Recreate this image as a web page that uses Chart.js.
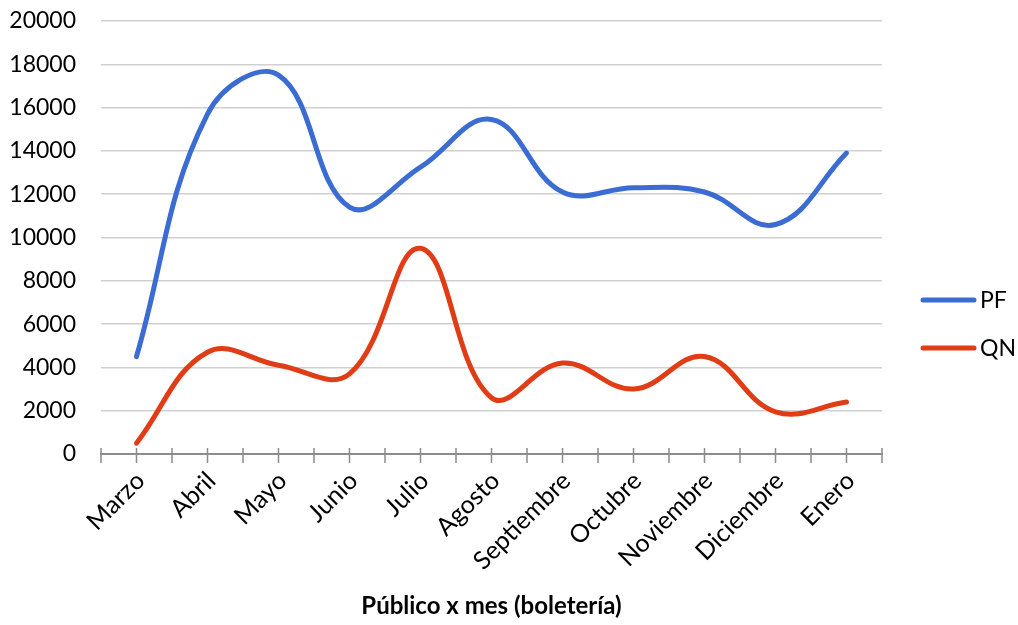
<!DOCTYPE html>
<html>
<head>
<meta charset="utf-8">
<script src="https://cdn.jsdelivr.net/npm/chart.js@4.4.1/dist/chart.umd.min.js"></script>
<style>
  html, body { margin: 0; padding: 0; background: #fff; }
  #wrap { width: 1018px; height: 625px; }
</style>
</head>
<body>
<div id="wrap"><canvas id="chart-publico"></canvas></div>
<script>
const meses = ['Marzo', 'Abril', 'Mayo', 'Junio', 'Julio', 'Agosto', 'Septiembre', 'Octubre', 'Noviembre', 'Diciembre', 'Enero'];
const pf = [4500, 15700, 17500, 11400, 13250, 15450, 12100, 12300, 12100, 10600, 13900];
const qn = [500, 4700, 4100, 3700, 9500, 2600, 4200, 3000, 4500, 1950, 2400];
const yTicks = [0, 2000, 4000, 6000, 8000, 10000, 12000, 14000, 16000, 18000, 20000];

const FONT = 'Lato, "Open Sans", sans-serif';

// ticks on the x axis: at category edges and at category centres
const axisTicks = {
  id: 'axisTicks',
  afterDraw(chart) {
    const x = chart.scales.x;
    const ctx = chart.ctx;
    const y0 = x.top;
    ctx.save();
    ctx.strokeStyle = '#8c8c8c';
    ctx.lineWidth = 1.5;
    ctx.beginPath();
    for (let i = 0; i < meses.length; i++) {
      const c = x.getPixelForValue(i);
      ctx.moveTo(c, y0 - 6); ctx.lineTo(c, y0 + 9);
    }
    const step = x.width / meses.length;
    for (let i = 0; i <= meses.length; i++) {
      const b = x.left + i * step;
      ctx.moveTo(b, y0 - 6); ctx.lineTo(b, y0 + 9);
    }
    ctx.stroke();
    ctx.restore();
  }
};

// legend on the right, line samples like the original
const sideLegend = {
  id: 'sideLegend',
  afterDraw(chart) {
    const ctx = chart.ctx;
    ctx.save();
    ctx.font = '23px ' + FONT;
    ctx.textBaseline = 'middle';
    chart.data.datasets.forEach((ds, i) => {
      const y = 300 + i * 48;
      ctx.strokeStyle = ds.borderColor;
      ctx.lineWidth = 5;
      ctx.lineCap = 'round';
      ctx.beginPath();
      ctx.moveTo(923, y); ctx.lineTo(974, y);
      ctx.stroke();
      ctx.fillStyle = '#000';
      ctx.fillText(ds.label, 980, y + 1);
    });
    ctx.restore();
  }
};

new Chart(document.getElementById('chart-publico'), {
  type: 'line',
  data: {
    labels: meses,
    datasets: [
      { label: 'PF', data: pf, borderColor: '#3a6cd2', backgroundColor: '#3a6cd2', borderWidth: 5, tension: 0.4, pointRadius: 0, borderCapStyle: 'round' },
      { label: 'QN', data: qn, borderColor: '#e03c16', backgroundColor: '#e03c16', borderWidth: 5, tension: 0.4, pointRadius: 0, borderCapStyle: 'round' }
    ]
  },
  options: {
    responsive: true,
    maintainAspectRatio: false,
    animation: false,
    layout: { padding: { top: 0, right: 136, left: 0, bottom: 0 } },
    plugins: { legend: { display: false }, tooltip: { enabled: false } },
    scales: {
      x: {
        offset: true,
        grid: { drawOnChartArea: false, drawTicks: false },
        border: { display: true, color: '#8c8c8c', width: 2 },
        ticks: { color: '#000', font: { family: FONT, size: 25 }, maxRotation: 45, minRotation: 45, padding: 12, labelOffset: 4 },
        title: { display: true, text: 'Público x mes (boletería)', color: '#000', font: { family: FONT, size: 24, weight: 'bold' }, padding: { top: 4, bottom: 4 } },
        afterFit(scale) { scale.height = 171; }
      },
      y: {
        min: 0,
        max: 20000,
        afterBuildTicks(scale) { scale.ticks = yTicks.map(v => ({ value: v })); },
        grid: { color: '#d0d0d0', lineWidth: 1.5, drawTicks: false },
        border: { display: false },
        ticks: { color: '#000', font: { family: FONT, size: 23 }, padding: 25, callback: v => String(v) },
        afterFit(scale) { scale.width = 101; scale.paddingTop = 21; scale.paddingBottom = 0; }
      }
    }
  },
  plugins: [axisTicks, sideLegend]
});
</script>
</body>
</html>
